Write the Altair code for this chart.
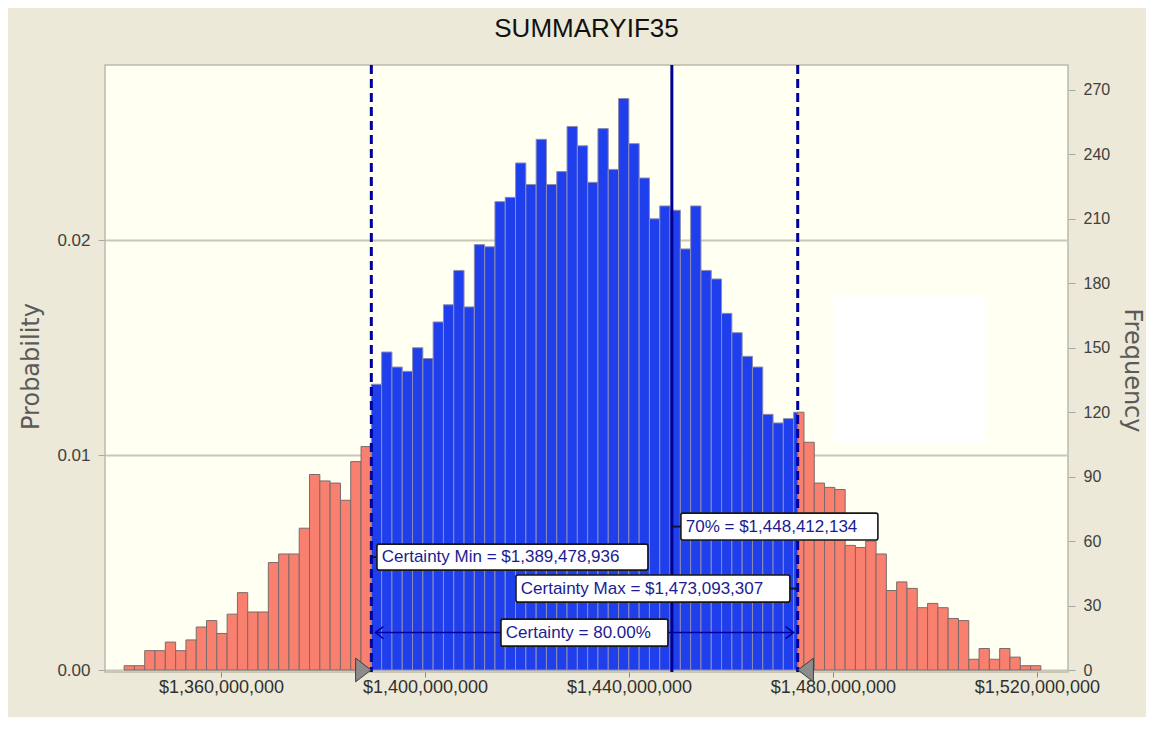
import altair as alt
import pandas as pd

# ---------------- data ----------------
TITLE = "SUMMARYIF35"
TRIALS = 10000
BIN_START = 1341.0e6
BIN_WIDTH = 2.02e6

FREQ_LOW = [2, 2, 9, 9, 13, 9, 14, 20, 23, 17, 26, 36, 27, 27, 50, 54, 54, 66,
            91, 88, 87, 79, 97, 104]
FREQ_MID = [133, 148, 141, 139, 150, 145, 162, 170, 186, 169, 198, 197, 218, 220,
            236, 226, 247, 226, 232, 253, 244, 227, 252, 233, 266, 245, 229, 210,
            216, 214, 196, 216, 186, 182, 166, 157, 146, 141, 119, 115, 117]
FREQ_HIGH = [120, 106, 87, 85, 84, 58, 57, 60, 54, 37, 41, 38, 29, 31, 29, 24, 23,
             5, 10, 5, 10, 6, 2, 2]

CERT_MIN = 1389478936
CERT_MAX = 1473093307
PCT70 = 1448412134
CERTAINTY = 80.00

X_TICKS = [1360000000, 1400000000, 1440000000, 1480000000, 1520000000]
PROB_TICKS = [0.00, 0.01, 0.02]
FREQ_TICKS = [0, 30, 60, 90, 120, 150, 180, 210, 240, 270]

# ---------------- layout / style ----------------
X_DOMAIN = [1337.25e6, 1526.1e6]
F_DOMAIN = [-0.93, 281.6]
P_DOMAIN = [F_DOMAIN[0] / TRIALS, F_DOMAIN[1] / TRIALS]

FONT = "Liberation Sans, Arial, Helvetica, sans-serif"
TITLE_FONT = "DejaVu Sans, Verdana, sans-serif"
RED = "#F9806F"
BLUE = "#1F3FEC"
NAVY = "#00009E"
TEXT_NAVY = "#1b1b92"

# annotation boxes (data units)
BOX_TEXT = [f"Certainty Min = ${CERT_MIN:,}", f"Certainty Max = ${CERT_MAX:,}",
            f"70% = ${PCT70:,}", f"Certainty = {CERTAINTY:.2f}%"]
BOX_X0 = [1390.58e6, 1417.84e6, 1450.19e6, 1414.90e6]
BOX_X1 = [1443.72e6, 1471.56e6, 1488.82e6, 1447.64e6]
BOX_F0 = [46.5, 31.6, 60.5, 11.1]
BOX_F1 = [58.6, 44.2, 73.0, 23.7]

# ---------------- build tables ----------------
freqs = FREQ_LOW + FREQ_MID + FREQ_HIGH
rows = []
for i, f in enumerate(freqs):
    a = BIN_START + i * BIN_WIDTH
    b = a + BIN_WIDTH
    for lo, hi, region in [(-1e18, CERT_MIN, "low"), (CERT_MIN, CERT_MAX, "mid"),
                           (CERT_MAX, 1e18, "high")]:
        s, e = max(a, lo), min(b, hi)
        if e - s > 0.1 * BIN_WIDTH:
            rows.append(dict(x=s, x2=e, prob=f / TRIALS, base=0.0, region=region))
seg_df = pd.DataFrame(rows)

XS = alt.Scale(domain=X_DOMAIN, nice=False, zero=False)
FS = alt.Scale(domain=F_DOMAIN, nice=False, zero=False)
PS = alt.Scale(domain=P_DOMAIN, nice=False, zero=False)

X_AXIS = alt.Axis(values=X_TICKS, format="$,.0f", title=None, grid=False, domain=False,
                  ticks=True, tickSize=5, tickColor="#8a8a8a", labelFont=FONT,
                  labelFontSize=18, labelColor="#303030", labelPadding=1,
                  labelFlush=False, labelOverlap=False)

PROB_AXIS = alt.Axis(orient="left", values=PROB_TICKS, format=".2f", title="Probability",
                     grid=True, gridColor="#C9C6B4", gridWidth=2, domain=False,
                     tickSize=7, tickColor="#A8A8A8", labelFont=FONT, labelFontSize=17,
                     labelColor="#404040", labelPadding=8,
                     titleFont=TITLE_FONT, titleFontSize=24, titleFontWeight="normal",
                     titleColor="#5a5a5a", titleAngle=270, titleX=-74, titleY=301,
                     titleAlign="center", titleBaseline="middle")

FREQ_AXIS = alt.Axis(orient="right", values=FREQ_TICKS, format="d", title="Frequency",
                     grid=False, domain=False, tickSize=7, tickColor="#A8A8A8",
                     labelFont=FONT, labelFontSize=16, labelColor="#404040",
                     labelPadding=8, titleFont=TITLE_FONT, titleFontSize=24,
                     titleFontWeight="normal", titleColor="#5a5a5a", titleAngle=90,
                     titleX=63, titleY=305, titleAlign="center", titleBaseline="middle")


def X(field="x"):
    return alt.X(f"{field}:Q", scale=XS, axis=X_AXIS)


def YF(field="f", axis=None):
    return alt.Y(f"{field}:Q", scale=FS, axis=axis)


bars = alt.Chart(seg_df).mark_rect(strokeWidth=1).encode(
    x=X("x"), x2="x2",
    y=alt.Y("prob:Q", scale=PS, axis=PROB_AXIS), y2="base:Q",
    fill=alt.Fill("region:N", scale=alt.Scale(domain=["low", "mid", "high"],
                                              range=[RED, BLUE, RED]), legend=None),
    stroke=alt.Stroke("region:N", scale=alt.Scale(domain=["low", "mid", "high"],
                                                  range=["#7a6a6a", "#8c8cb4", "#7a6a6a"]),
                      legend=None),
)

right_axis = alt.Chart(pd.DataFrame({"f": FREQ_TICKS})).mark_point(opacity=0).encode(
    x=alt.value(0), y=YF("f", FREQ_AXIS))

white_box = alt.Chart(pd.DataFrame({"x": [1480.0e6], "x2": [1509.8e6],
                                    "f0": [105.6], "f1": [174.5]})).mark_rect(
    fill="#FFFFFF", stroke=None).encode(x=X("x"), x2="x2", y=YF("f0"), y2="f1")

dashed = alt.Chart(pd.DataFrame({"x": [CERT_MIN, CERT_MAX]})).mark_rule(
    color=NAVY, strokeWidth=3, strokeDash=[9, 5]).encode(x=X("x"))

solid = alt.Chart(pd.DataFrame({"x": [PCT70]})).mark_rule(
    color="#000094", strokeWidth=3).encode(x=X("x"))

tri_r = alt.Chart(pd.DataFrame({"x": [CERT_MIN], "f": [0]})).mark_point(
    shape="M-0.65,-1L0.65,0L-0.65,1Z", size=560, filled=True, fill="#8c8c8c",
    stroke="#3c3c3c", strokeWidth=1, opacity=1, xOffset=-8).encode(x=X("x"), y=YF("f"))
tri_l = alt.Chart(pd.DataFrame({"x": [CERT_MAX], "f": [0]})).mark_point(
    shape="M0.65,-1L-0.65,0L0.65,1Z", size=560, filled=True, fill="#8c8c8c",
    stroke="#3c3c3c", strokeWidth=1, opacity=1, xOffset=8).encode(x=X("x"), y=YF("f"))

box_mid = [(a + b) / 2 for a, b in zip(BOX_F0, BOX_F1)]
conn_df = pd.DataFrame({"x": [CERT_MIN, PCT70, BOX_X1[1]],
                        "x2": [BOX_X0[0], BOX_X0[2], CERT_MAX],
                        "f": [box_mid[0], box_mid[2], box_mid[1]]})
connectors = alt.Chart(conn_df).mark_rule(color="#101040", strokeWidth=2).encode(
    x=X("x"), x2="x2", y=YF("f"))

arrow_f = box_mid[3]
arrow_line = alt.Chart(pd.DataFrame({"x": [CERT_MIN + 0.8e6], "x2": [CERT_MAX - 0.8e6],
                                     "f": [arrow_f]})).mark_rule(
    color=NAVY, strokeWidth=1.5).encode(x=X("x"), x2="x2", y=YF("f"))
head_l = alt.Chart(pd.DataFrame({"x": [CERT_MIN + 0.8e6], "f": [arrow_f]})).mark_point(
    shape="M1.33,-1L0,0L1.33,1", size=144, filled=False, color=NAVY, strokeWidth=1.5,
    opacity=1).encode(x=X("x"), y=YF("f"))
head_r = alt.Chart(pd.DataFrame({"x": [CERT_MAX - 0.8e6], "f": [arrow_f]})).mark_point(
    shape="M-1.33,-1L0,0L-1.33,1", size=144, filled=False, color=NAVY, strokeWidth=1.5,
    opacity=1).encode(x=X("x"), y=YF("f"))

box_df = pd.DataFrame({"x": BOX_X0, "x2": BOX_X1, "f0": BOX_F0, "f1": BOX_F1,
                       "label": BOX_TEXT,
                       "tx": [v + 0.95e6 for v in BOX_X0], "tf": box_mid})
boxes = alt.Chart(box_df).mark_rect(fill="#FFFFFF", stroke="#161616",
                                    strokeWidth=1.6, cornerRadius=2).encode(
    x=X("x"), x2="x2", y=YF("f0"), y2="f1")
texts = alt.Chart(box_df.rename(columns={"x": "bx", "tx": "x"})).mark_text(
    align="left", baseline="middle", font=FONT, fontSize=17, color=TEXT_NAVY).encode(
    x=X("x"), y=YF("tf"), text="label:N")

chart = alt.layer(
    bars, right_axis, white_box, dashed, solid, connectors, arrow_line, head_l, head_r,
    boxes, texts, tri_r, tri_l
).resolve_scale(y="independent").properties(
    width=963, height=607,
    title=alt.TitleParams(TITLE, font=FONT, fontSize=26, fontWeight="normal",
                          color="#111111", offset=22, anchor="middle"),
    padding={"left": 97, "top": 57, "right": 78, "bottom": 45},
    autosize="none",
    background="#ECE9D8",
).configure_view(fill="#FFFFF2", stroke="#BDB9A8", strokeWidth=1.5)

chart.save("out.html", embed_options={"renderer": "svg", "actions": False})
